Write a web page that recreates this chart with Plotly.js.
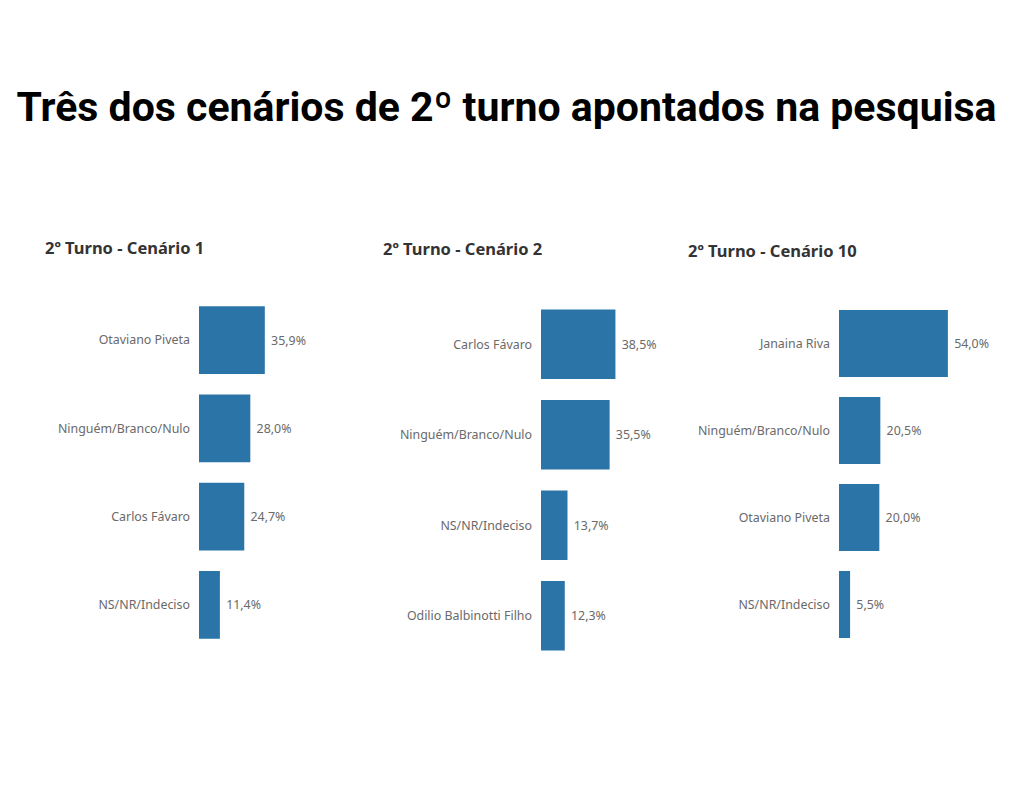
<!DOCTYPE html>
<html>
<head>
<meta charset="utf-8">
<script src="https://cdn.plot.ly/plotly-3.0.1.min.js"></script>
<style>html,body{margin:0;padding:0;background:#fff;}#chart{width:1024px;height:800px;}</style>
</head>
<body>
<div id="chart"></div>
<script>
const mainTitle = "Três dos cenários de 2º turno apontados na pesquisa";
const panelTitles = ["2º Turno - Cenário 1", "2º Turno - Cenário 2", "2º Turno - Cenário 10"];

const cat1 = ["Otaviano Piveta", "Ninguém/Branco/Nulo", "Carlos Fávaro", "NS/NR/Indeciso"];
const val1 = [35.9, 28.0, 24.7, 11.4];

const cat2 = ["Carlos Fávaro", "Ninguém/Branco/Nulo", "NS/NR/Indeciso", "Odilio Balbinotti Filho"];
const val2 = [38.5, 35.5, 13.7, 12.3];

const cat3 = ["Janaina Riva", "Ninguém/Branco/Nulo", "Otaviano Piveta", "NS/NR/Indeciso"];
const val3 = [54.0, 20.5, 20.0, 5.5];

const W = 1024, H = 800;
const px = v => v / W;
const py = v => 1 - v / H;

const barColor = "#2b74a8";
const labelFont = {family: "Noto Sans, sans-serif", size: 12.4, color: "#6a6a6a"};

function barTrace(cats, vals, n) {
  return {
    type: "bar", orientation: "h",
    y: cats, x: vals,
    xaxis: "x" + (n === 1 ? "" : n), yaxis: "y" + (n === 1 ? "" : n),
    marker: {color: barColor},
    texttemplate: "\u00a0%{x:.1f}%",
    textposition: "outside", cliponaxis: false,
    textfont: labelFont,
    hoverinfo: "skip", showlegend: false
  };
}

// panel pixel geometry: [xStart, xEnd, yTop, yBottom]
const geo = [
  [199, 309, 296, 649],
  [541, 657, 299, 661],
  [839, 960, 300, 648]
];

function xax(g) {
  return {domain: [px(g[0]), px(g[1])], range: [0, 60], visible: false, fixedrange: true};
}
function yax(g, n) {
  return {domain: [py(g[3]), py(g[2])], autorange: "reversed", showgrid: false, zeroline: false,
          showline: false, ticks: "", ticklabelstandoff: 8, tickfont: labelFont,
          anchor: "x" + (n === 1 ? "" : n), fixedrange: true};
}

const data = [barTrace(cat1, val1, 1), barTrace(cat2, val2, 2), barTrace(cat3, val3, 3)];

const subFont = {family: "Noto Sans, sans-serif", size: 16.5, color: "#333333", weight: 700};
const annotations = [
  {text: panelTitles[0], x: px(43), y: py(247)},
  {text: panelTitles[1], x: px(381), y: py(248)},
  {text: panelTitles[2], x: px(686), y: py(250)}
].map(a => Object.assign(a, {xref: "paper", yref: "paper", xanchor: "left", yanchor: "middle",
                               showarrow: false, font: subFont}));

const layout = {
  width: W, height: H,
  margin: {l: 0, r: 0, t: 0, b: 0},
  paper_bgcolor: "#ffffff", plot_bgcolor: "#ffffff",
  separators: ",.",
  bargap: 0.23,
  title: {text: mainTitle, x: 506.5 / W, xanchor: "center", xref: "paper", y: py(107), yref: "paper", yanchor: "middle",
          font: {family: "Roboto, sans-serif", size: 41, color: "#000000", weight: 700}},
  xaxis: xax(geo[0]), yaxis: yax(geo[0], 1),
  xaxis2: Object.assign(xax(geo[1]), {anchor: "y2"}), yaxis2: yax(geo[1], 2),
  xaxis3: Object.assign(xax(geo[2]), {anchor: "y3"}), yaxis3: yax(geo[2], 3),
  annotations: annotations
};
layout.xaxis.anchor = "y";

Plotly.newPlot("chart", data, layout, {displayModeBar: false, staticPlot: true});
</script>
</body>
</html>
